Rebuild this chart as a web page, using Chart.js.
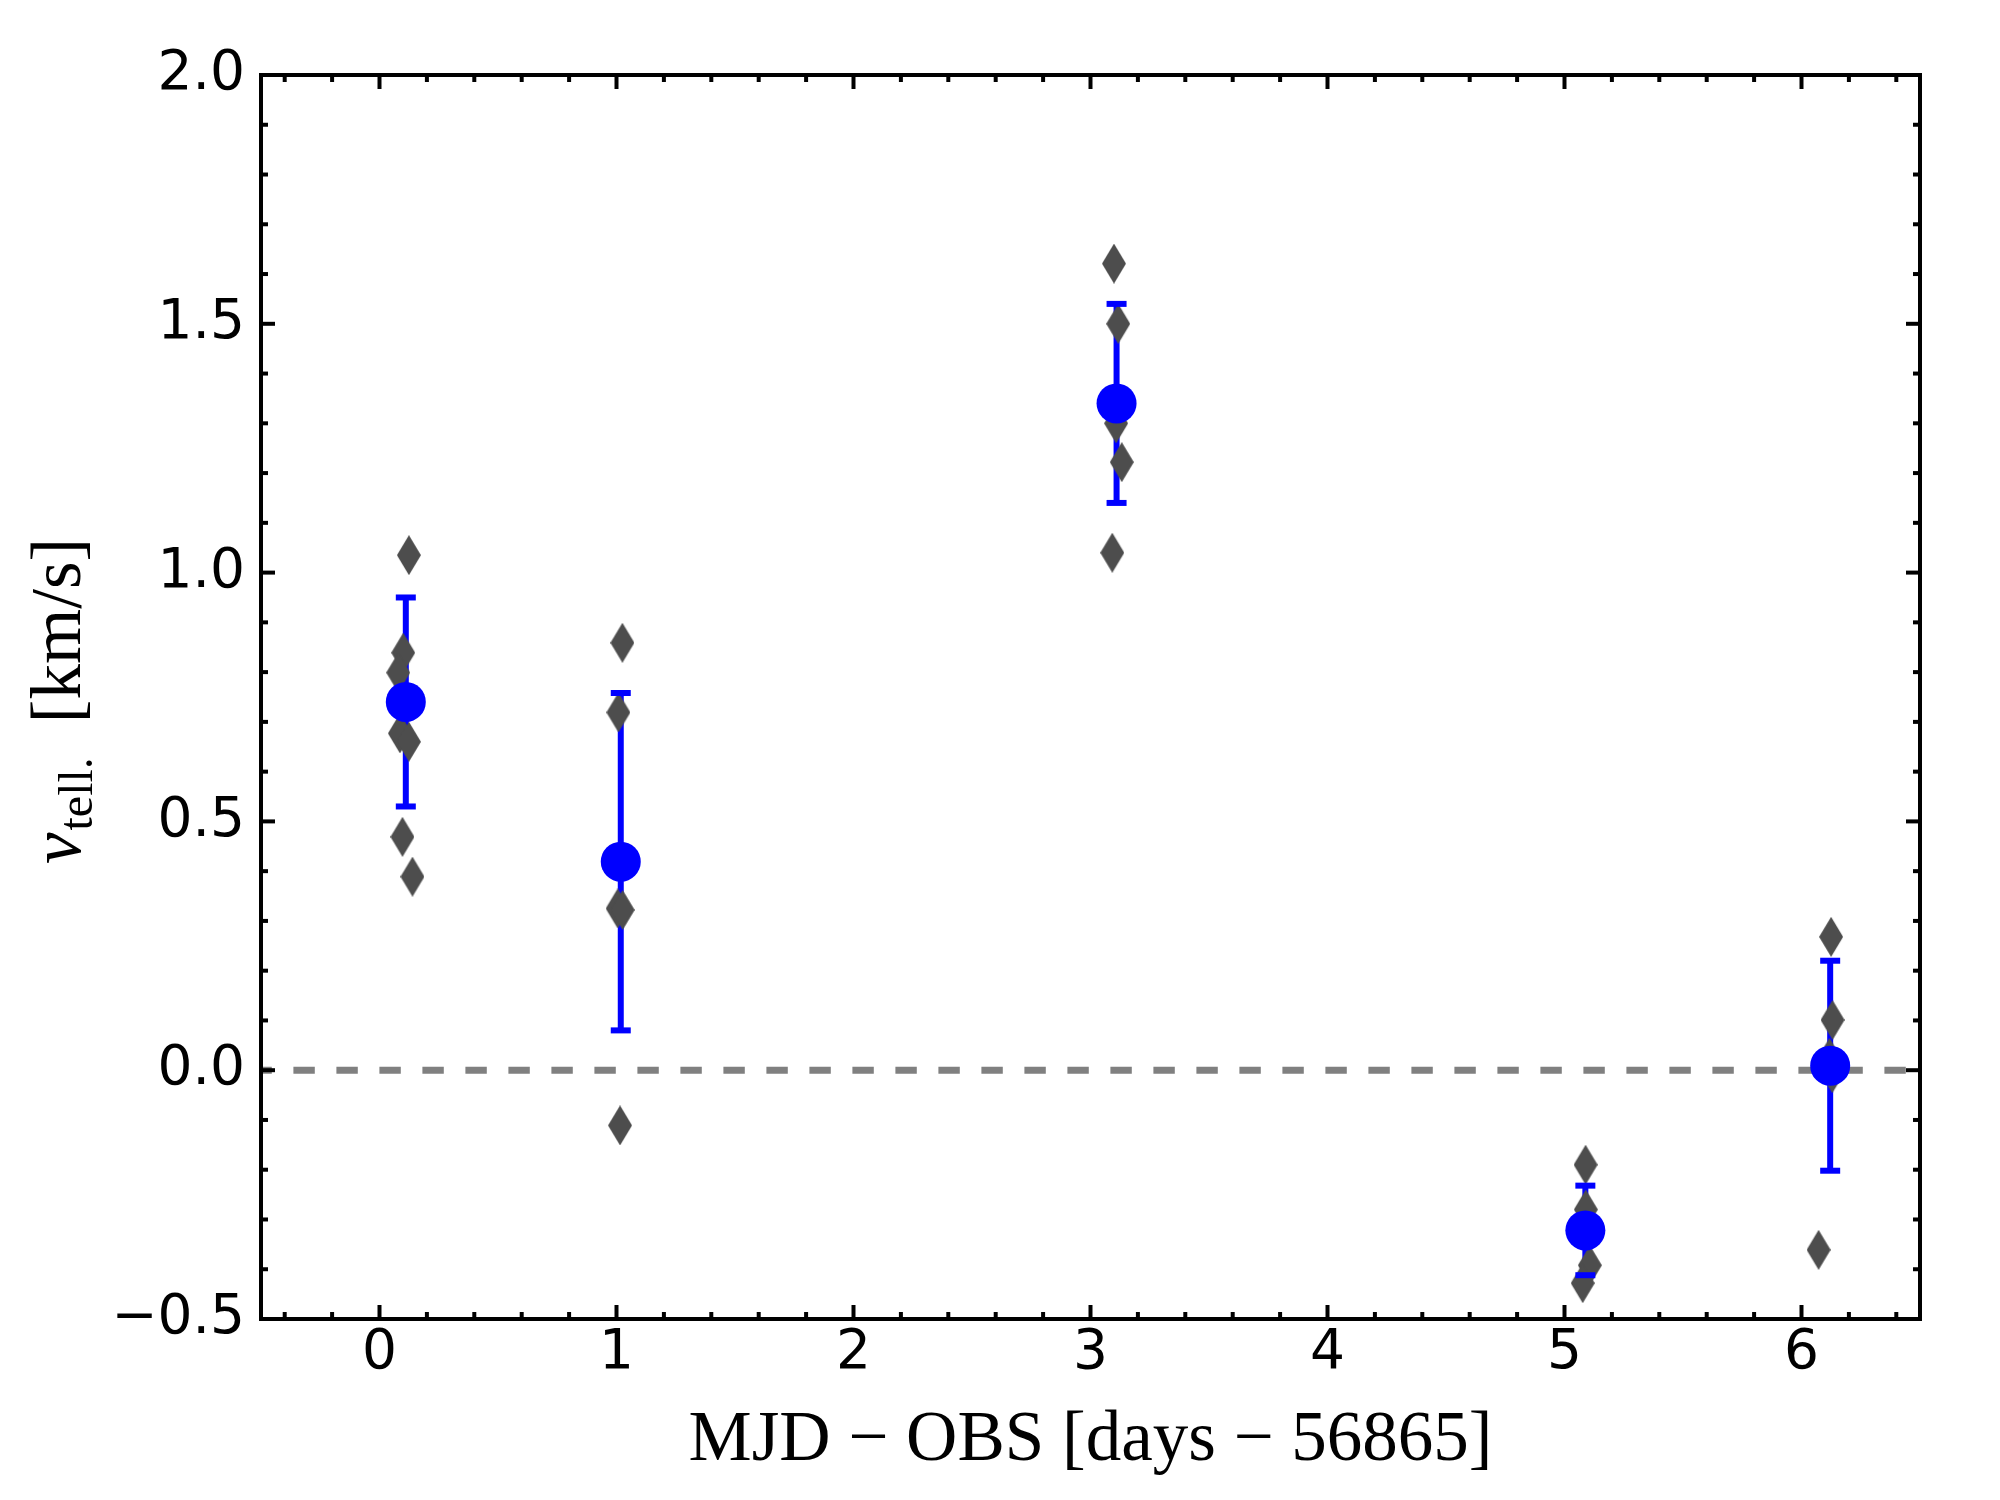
<!DOCTYPE html>
<html>
<head>
<meta charset="utf-8">
<script src="https://cdn.jsdelivr.net/npm/chart.js@4.4.1/dist/chart.umd.min.js"></script>
<style>
  html, body { margin: 0; padding: 0; background: #fff; }
  #chart { display: block; width: 2000px; height: 1500px; }
</style>
</head>
<body>
<canvas id="chart" width="2000" height="1500"></canvas>
<script>
// Tellurische hastigheter per natt: snitt med feilstolpe + enkeltmålinger.
const xTicks = [0, 1, 2, 3, 4, 5, 6];
const yTicks = [-0.5, 0, 0.5, 1, 1.5, 2];
const yTickLabels = ['\u22120.5', '0.0', '0.5', '1.0', '1.5', '2.0'];

const meanX = [0.111, 1.018, 3.110, 5.088, 6.121];
const meanV = [0.740, 0.419, 1.340, -0.322, 0.009];
const meanErr = [0.210, 0.339, 0.200, 0.090, 0.211];

const singleX = [
  0.124, 0.100, 0.079, 0.086, 0.124, 0.097, 0.139,
  1.025, 1.008, 1.005, 1.026, 1.015,
  3.099, 3.117, 3.108, 3.132, 3.092,
  5.089, 5.090, 5.107, 5.077,
  6.125, 6.131, 6.118, 6.130, 6.072,
];
const singleV = [
  1.035, 0.839, 0.799, 0.677, 0.660, 0.469, 0.389,
  0.859, 0.719, 0.325, 0.322, -0.111,
  1.621, 1.500, 1.300, 1.222, 1.040,
  -0.190, -0.280, -0.392, -0.428,
  0.268, 0.101, 0.025, -0.006, -0.361,
];

const BLUE = '#0000ff';
const GREY = '#4d4d4d';
const tickFont = { family: 'DejaVu Sans', size: 55, lineHeight: 1.2 };
const labelFamily = '"Liberation Serif", "DejaVu Serif", serif';

function thinDiamond(w, h, color) {
  const c = document.createElement('canvas');
  c.width = w;
  c.height = h;
  const g = c.getContext('2d');
  g.fillStyle = color;
  g.beginPath();
  g.moveTo(w / 2, 0);
  g.lineTo(w, h / 2);
  g.lineTo(w / 2, h);
  g.lineTo(0, h / 2);
  g.closePath();
  g.fill();
  return c;
}

function steps(min, max, step) {
  const out = [];
  const n = Math.round((max - min) / step);
  for (let i = 0; i <= n; i++) out.push(+(min + i * step).toFixed(6));
  return out;
}

// nullinje + feilstolper under punktene, endestykker over diamantene
const decorations = {
  id: 'decorations',
  beforeDatasetsDraw(chart) {
    const { ctx, chartArea: a, scales: { x, y } } = chart;
    ctx.save();
    ctx.beginPath();
    ctx.rect(a.left, a.top, a.right - a.left, a.bottom - a.top);
    ctx.clip();
    const y0 = y.getPixelForValue(0);
    ctx.strokeStyle = '#808080';
    ctx.lineWidth = 7;
    ctx.setLineDash([21.4, 21.6]);
    ctx.lineDashOffset = 10.6;
    ctx.beginPath();
    ctx.moveTo(a.left, y0);
    ctx.lineTo(a.right, y0);
    ctx.stroke();
    ctx.setLineDash([]);
    ctx.strokeStyle = BLUE;
    ctx.lineWidth = 6;
    meanX.forEach((mx, i) => {
      const px = x.getPixelForValue(mx);
      ctx.beginPath();
      ctx.moveTo(px, y.getPixelForValue(meanV[i] + meanErr[i]));
      ctx.lineTo(px, y.getPixelForValue(meanV[i] - meanErr[i]));
      ctx.stroke();
    });
    ctx.restore();
  },
  afterDatasetDraw(chart, args) {
    if (args.index !== 0) return;
    const { ctx, scales: { x, y } } = chart;
    ctx.save();
    ctx.strokeStyle = BLUE;
    ctx.lineWidth = 6;
    meanX.forEach((mx, i) => {
      const px = x.getPixelForValue(mx);
      [meanV[i] + meanErr[i], meanV[i] - meanErr[i]].forEach((v) => {
        const py = y.getPixelForValue(v);
        ctx.beginPath();
        ctx.moveTo(px - 10, py);
        ctx.lineTo(px + 10, py);
        ctx.stroke();
      });
    });
    ctx.restore();
  },
  afterDraw(chart) {
    const { ctx, chartArea: a, scales: { x, y } } = chart;
    ctx.save();
    ctx.strokeStyle = '#000';
    ctx.lineWidth = 4;
    ctx.strokeRect(a.left, a.top, a.right - a.left, a.bottom - a.top);

    // tikker innover på alle fire sider
    const tick = (x1, y1, x2, y2) => {
      ctx.beginPath();
      ctx.moveTo(x1, y1);
      ctx.lineTo(x2, y2);
      ctx.stroke();
    };
    steps(-0.4, 6.4, 0.2).forEach((v) => {
      const len = xTicks.includes(v) ? 14 : 7;
      const px = x.getPixelForValue(v);
      tick(px, a.bottom, px, a.bottom - len);
      tick(px, a.top, px, a.top + len);
    });
    steps(-0.4, 1.9, 0.1).forEach((v) => {
      const len = yTicks.includes(v) ? 14 : 7;
      const py = y.getPixelForValue(v);
      tick(a.left, py, a.left + len, py);
      tick(a.right, py, a.right - len, py);
    });

    // aksetitler
    ctx.fillStyle = '#000';
    ctx.textBaseline = 'alphabetic';
    ctx.textAlign = 'center';
    ctx.font = '71px ' + labelFamily;
    ctx.fillText('MJD \u2212 OBS [days \u2212 56865]', (a.left + a.right) / 2, 1460);

    ctx.translate(80, 864);
    ctx.rotate(-Math.PI / 2);
    ctx.textAlign = 'left';
    ctx.font = 'italic 71px ' + labelFamily;
    ctx.fillText('v', 0, 0);
    let off = ctx.measureText('v').width + 2;
    ctx.font = '48px ' + labelFamily;
    ctx.fillText('tell.', off, 12);
    off += ctx.measureText('tell.').width + 34;
    ctx.font = '71px ' + labelFamily;
    ctx.fillText('[km/s]', off, 0);
    ctx.restore();
  },
};

new Chart(document.getElementById('chart'), {
  type: 'scatter',
  data: {
    datasets: [
      {
        label: 'enkelt',
        data: singleX.map((v, i) => ({ x: v, y: singleV[i] })),
        pointStyle: thinDiamond(24, 40, GREY),
        pointRadius: 12,
        order: 1,
      },
      {
        label: 'snitt',
        data: meanX.map((v, i) => ({ x: v, y: meanV[i] })),
        pointStyle: 'circle',
        pointRadius: 20,
        backgroundColor: BLUE,
        borderWidth: 0,
        order: 0,
      },
    ],
  },
  options: {
    responsive: false,
    devicePixelRatio: 1,
    animation: false,
    events: [],
    layout: { padding: { left: 0, top: 75, right: 80, bottom: 0 } },
    plugins: { legend: { display: false }, tooltip: { enabled: false } },
    scales: {
      x: {
        type: 'linear',
        min: -0.5,
        max: 6.5,
        afterBuildTicks(scale) { scale.ticks = xTicks.map((v) => ({ value: v })); },
        afterFit(scale) { scale.height = 181; },
        grid: { display: false, drawTicks: false },
        border: { display: false },
        ticks: { font: tickFont, color: '#000', padding: 2, maxRotation: 0, callback: (v) => String(v) },
      },
      y: {
        type: 'linear',
        min: -0.5,
        max: 2.0,
        afterBuildTicks(scale) { scale.ticks = yTicks.map((v) => ({ value: v })); },
        afterFit(scale) { scale.width = 261; },
        grid: { display: false, drawTicks: false },
        border: { display: false },
        ticks: { font: tickFont, color: '#000', padding: 16, callback: (v) => yTickLabels[yTicks.indexOf(v)] },
      },
    },
  },
  plugins: [decorations],
});
</script>
</body>
</html>
